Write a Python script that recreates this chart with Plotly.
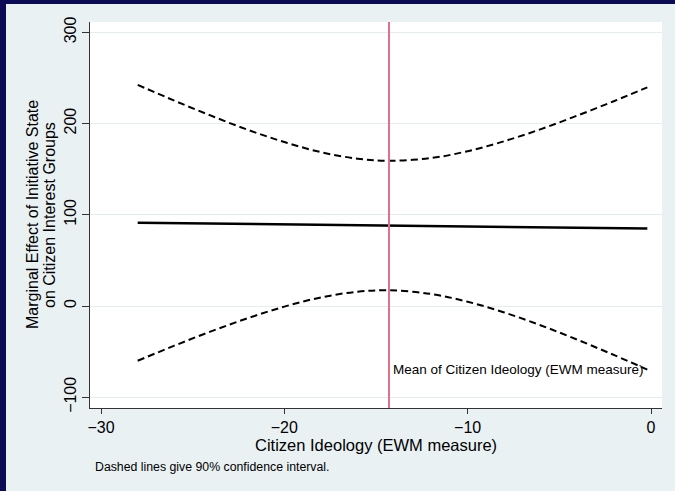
import plotly.graph_objects as go

# Values
x_vals = [-28, -26, -24, -22, -20, -18, -16, -14.3, -12, -10, -8, -6, -4, -2, -0.2]
effect = [91.2, 90.8, 90.4, 89.9, 89.5, 89.0, 88.6, 88.2, 87.7, 87.2, 86.8, 86.3, 85.9, 85.4, 85.0]
upper_ci = [242.4, 225.1, 208.6, 193.2, 179.7, 168.6, 161.5, 159.2, 162.2, 169.7, 180.7, 193.9, 208.9, 224.7, 239.7]
lower_ci = [-60.0, -43.5, -27.8, -13.4, -0.7, 9.4, 15.7, 17.2, 13.2, 4.7, -7.1, -21.3, -37.1, -53.9, -69.7]
mean_ideology = -14.29
x_ticks = [-30, -20, -10, 0]
y_ticks = [-100, 0, 100, 200, 300]

NAVY = "#0A0A55"
LIGHT = "#EAF1F3"
GRID = "#E3ECEF"
FONT = "Liberation Sans, Arial, sans-serif"

W, H = 675, 491
L, R, T, B = 90, 13, 22, 83
PW, PH = W - L - R, H - T - B

def px_x(p):
    return (p - L) / PW

def px_y(p):
    return (H - B - p) / PH

fig = go.Figure()
fig.add_trace(go.Scatter(x=x_vals, y=upper_ci, mode="lines", line=dict(color="black", width=2, dash="7px,4px", shape="spline"), showlegend=False))
fig.add_trace(go.Scatter(x=x_vals, y=lower_ci, mode="lines", line=dict(color="black", width=2, dash="7px,4px", shape="spline"), showlegend=False))
fig.add_trace(go.Scatter(x=x_vals, y=effect, mode="lines", line=dict(color="black", width=2.5), showlegend=False))

shapes = [
    dict(type="line", xref="x", yref="paper", x0=mean_ideology, x1=mean_ideology, y0=0, y1=1,
         line=dict(color="#E0708A", width=2), layer="above"),
    dict(type="rect", xref="paper", yref="paper", x0=px_x(0), x1=px_x(W), y0=px_y(4), y1=px_y(0),
         fillcolor=NAVY, line=dict(width=0), layer="above"),
    dict(type="rect", xref="paper", yref="paper", x0=px_x(0), x1=px_x(6), y0=px_y(H), y1=px_y(0),
         fillcolor=NAVY, line=dict(width=0), layer="above"),
]

annotations = [
    dict(xref="x", yref="y", x=mean_ideology, y=-70, xshift=2, xanchor="left", yanchor="middle",
         text="Mean of Citizen Ideology (EWM measure)", showarrow=False,
         font=dict(family=FONT, size=13.5, color="black")),
    dict(xref="paper", yref="paper", x=px_x(32), y=px_y(215), xanchor="center", yanchor="middle",
         text="Marginal Effect of Initiative State", textangle=-90,
         showarrow=False, font=dict(family=FONT, size=16, color="black")),
    dict(xref="paper", yref="paper", x=px_x(49), y=px_y(215), xanchor="center", yanchor="middle",
         text="on Citizen Interest Groups", textangle=-90,
         showarrow=False, font=dict(family=FONT, size=16, color="black")),
    dict(xref="paper", yref="paper", x=px_x(376), y=px_y(445), xanchor="center", yanchor="middle",
         text="Citizen Ideology (EWM measure)", showarrow=False,
         font=dict(family=FONT, size=16.5, color="black")),
    dict(xref="paper", yref="paper", x=px_x(93), y=px_y(467), xanchor="left", yanchor="middle",
         text="Dashed lines give 90% confidence interval.", showarrow=False,
         font=dict(family=FONT, size=12.3, color="black")),
]

fig.update_layout(
    width=W, height=H,
    margin=dict(l=L, r=R, t=T, b=B, pad=0),
    paper_bgcolor=LIGHT, plot_bgcolor="white",
    font=dict(family=FONT, size=16, color="black"),
    shapes=shapes, annotations=annotations,
    xaxis=dict(range=[-30.6, 0.6], tickvals=x_ticks, ticks="outside", ticklen=5, tickcolor="#333",
               showline=True, linecolor="#333", linewidth=1, showgrid=False, zeroline=False,
               tickfont=dict(size=16)),
    yaxis=dict(range=[-111.8, 311.3], tickvals=y_ticks, ticks="outside", ticklen=7, tickcolor="#333",
               showline=True, linecolor="#333", linewidth=1, showgrid=True, gridcolor=GRID, gridwidth=1,
               zeroline=False, tickangle=-90, tickfont=dict(size=16)),
)

fig.write_html(
    "out.html",
    config={"displayModeBar": False},
    post_script=(
        "document.body.style.margin='0';"
        "document.body.style.overflow='hidden';"
        "document.documentElement.style.overflow='hidden';"
        "document.body.style.background='#EAF1F3';"
    ),
)
